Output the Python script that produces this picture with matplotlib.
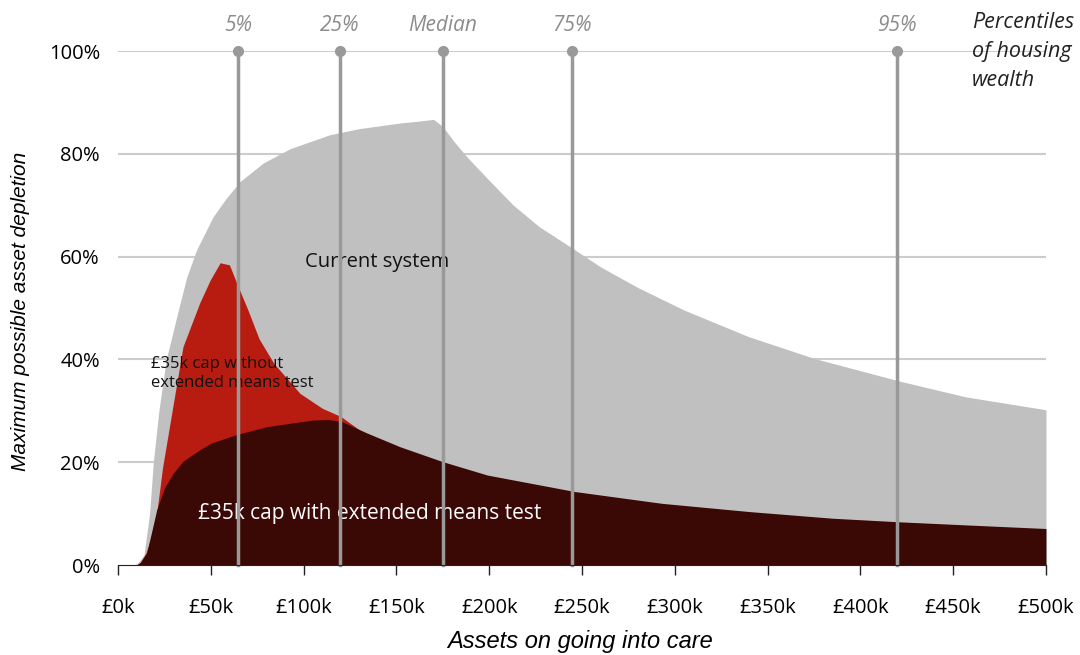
import numpy as np
import matplotlib.pyplot as plt
from matplotlib.ticker import FuncFormatter

# ============================================
# Data
# ============================================

# Current system: maximum possible asset depletion (%), assets in £k
current_x = [0, 9, 11, 14, 17, 19, 22, 26, 32.5, 37, 42.3, 51.3, 58, 65.7, 78.2, 92.7, 114,
             130, 152, 163, 170, 175, 181, 188, 199, 213, 227, 245, 260, 280, 305, 340,
             375, 422, 457, 500]
current_y = [0, 0, 0.5, 2, 10, 20, 30, 40, 49.6, 56, 61.3, 67.8, 71.2, 74.6, 78.2, 81, 83.7,
             84.9, 86, 86.4, 86.7, 85.3, 82.4, 79.4, 75.2, 70, 65.8, 61.6, 58, 54, 49.6, 44.4,
             40.2, 35.7, 32.7, 30.2]

# £35k cap without extended means test
cap_x = [0, 10, 12, 15, 17.5, 20.8, 24, 28.9, 35, 44, 49.6, 55, 60, 64, 70, 76, 84, 98,
         110, 120, 130]
cap_y = [0, 0, 0.5, 2.3, 5, 10, 19, 29.5, 42.5, 51, 55.4, 58.8, 58.4, 54.8, 49.6, 44, 39.2, 33.4,
         30.5, 28.9, 26.3]

# £35k cap with extended means test
ext_x = [0, 10, 12, 15.4, 18, 20.8, 25, 29.8, 35, 44, 50, 64, 80, 95, 105, 113, 120, 134,
         152, 175, 199, 246, 293, 340, 385, 421, 457, 500]
ext_y = [0, 0, 0.5, 2.3, 6.3, 10.7, 15, 17.9, 20.2, 22.4, 23.7, 25.4, 26.9, 27.7, 28.2, 28.3, 28.0, 25.7,
         23, 20.1, 17.5, 14.3, 12, 10.4, 9.1, 8.4, 7.8, 7.1]

# Percentiles of housing wealth (£k)
pct_labels = ['5%', '25%', 'Median', '75%', '95%']
pct_values = [64.7, 119.6, 175, 244.6, 419.7]

x_ticks = list(range(0, 501, 50))
y_ticks = [0, 20, 40, 60, 80, 100]

# ============================================
# Figure
# ============================================

plt.rcParams['font.family'] = ['Open Sans', 'DejaVu Sans']

fig = plt.figure(figsize=(10.8, 6.55), dpi=100)
ax = fig.add_axes([0.1093, 0.1374, 0.8592, 0.7847])

grey = '#c0c0c0'
red = '#b81c10'
dark = '#3a0805'
line_grey = '#999999'

# gridlines (no line at 0)
for yv in y_ticks[1:]:
    ax.axhline(yv, color='#cccccc', lw=1.5, zorder=0)

ax.fill_between(current_x, current_y, 0, color=grey, lw=0, zorder=1)
ax.fill_between(cap_x, cap_y, 0, color=red, lw=0, zorder=2)
ax.fill_between(ext_x, ext_y, 0, color=dark, lw=0, zorder=3)

# percentile markers
for lab, xv in zip(pct_labels, pct_values):
    ax.plot([xv, xv], [0, 100], color=line_grey, lw=2.5, zorder=4, clip_on=False)
    ax.plot(xv, 100, 'o', color=line_grey, ms=7, zorder=5, clip_on=False)
    ax.text(xv, 103, lab, ha='center', va='bottom', fontsize=15, color='#8c8c8c',
            style='italic')

ax.text(460, 107.5, 'Percentiles\nof housing\nwealth', ha='left', va='top', fontsize=15.5,
        style='italic', color='#222222', linespacing=1.5)

# series labels
ax.text(101, 59, 'Current system', fontsize=14.5, color='#111111', va='center')
ax.text(17.5, 37.2, '£35k cap without\nextended means test', fontsize=12, color='#111111',
        va='center', linespacing=1.25)
ax.text(43, 10, '£35k cap with extended means test', fontsize=15, color='white', va='center')

# axes
ax.set_xlim(0, 500)
ax.set_ylim(0, 100)
ax.set_xticks(x_ticks)
ax.xaxis.set_major_formatter(FuncFormatter(lambda v, p: f'£{int(v)}k'))
ax.set_yticks(y_ticks)
ax.yaxis.set_major_formatter(FuncFormatter(lambda v, p: f'{int(v)}%'))
ax.tick_params(axis='x', length=7, width=1, color='#222222', labelsize=14.5, pad=17)
ax.tick_params(axis='y', length=0, labelsize=14.5, pad=13)

for s in ['top', 'right', 'left']:
    ax.spines[s].set_visible(False)
ax.spines['bottom'].set_color('#222222')
ax.spines['bottom'].set_zorder(6)

fig.text(0.537, 0.02, 'Assets on going into care', ha='center', va='center', fontsize=17,
         style='italic', family='Liberation Sans')
fig.text(0.019, 0.525, 'Maximum possible asset depletion', ha='center', va='center',
         fontsize=15, style='italic', rotation=90, family='Liberation Sans')

plt.savefig('out.png', dpi=100)
